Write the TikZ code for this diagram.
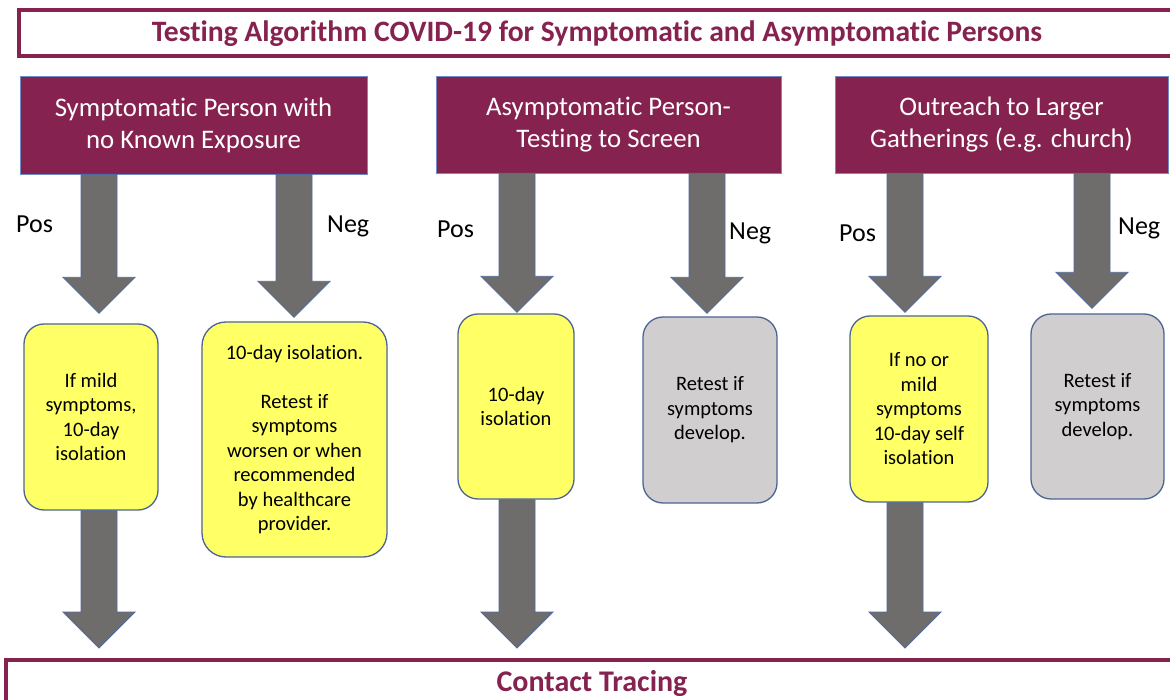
\documentclass[tikz,border=0pt]{standalone}
\usepackage{fontspec}
\setmainfont{Carlito}[Ligatures=NoCommon]
\usetikzlibrary{calc}

\definecolor{maroon}{HTML}{86224F}
\definecolor{headline}{HTML}{6F8CC4}
\definecolor{notefill}{HTML}{FFFF66}
\definecolor{greyfill}{HTML}{D0CECF}
\definecolor{noteline}{HTML}{4C6594}
\definecolor{shaftfill}{HTML}{6F6C6C}
\definecolor{shaftline}{HTML}{4F6AA0}

\tikzset{
  banner/.style={draw=maroon, line width=4pt, fill=white},
  bannertext/.style={text=maroon, font=\bfseries\fontsize{#1}{#1}\selectfont, inner sep=0pt},
  header/.style={draw=headline, line width=0.8pt, fill=maroon, text=white,
    align=center, font=\fontsize{26.8}{32}\selectfont, inner sep=0pt},
  note/.style={draw=noteline, line width=1.3pt, rounded corners=20pt, align=center,
    font=\fontsize{20.5}{24.5}\selectfont, inner sep=0pt},
  yellownote/.style={note, fill=notefill},
  greynote/.style={note, fill=greyfill},
  result/.style={font=\fontsize{26}{30}\selectfont, anchor=base west, inner sep=0pt},
  fatarrow/.style={fill=shaftfill, draw=shaftline, line width=0.8pt, line join=miter},
}

% thick block arrow going straight down from #1 to the tip #2
\newcommand\fatarrow[2]{%
  \filldraw[fatarrow] let \p1=(#1), \p2=(#2) in
    (\x1-18pt,\y1) -- (\x1+18pt,\y1) -- (\x1+18pt,\y2+36pt) -- (\x1+36pt,\y2+36pt)
    -- (\x1,\y2) -- (\x1-36pt,\y2+36pt) -- (\x1-18pt,\y2+36pt) -- cycle;%
}

\begin{document}
\begin{tikzpicture}[x=1pt, y=-1pt]
  \useasboundingbox (0,0) rectangle (1170,700);
  \clip (0,0) rectangle (1170,700);

  % title banner and contact tracing banner
  \draw[banner] (19,10) rectangle (1180,56);
  \node[bannertext=29.6] (title) at (597,34) {Testing Algorithm COVID-19 for Symptomatic and Asymptomatic Persons};
  \draw[banner] (6,660) rectangle (1185,730);
  \node[bannertext=30] (contact) at (592,684) {Contact Tracing};
  \coordinate (ctop) at (592,660);

  % three starting situations
  \node[header, minimum width=347pt, minimum height=98pt] (h1) at (193.5,125) {Symptomatic Person with\\no Known Exposure};
  \node[header, minimum width=345pt, minimum height=97pt] (h2) at (608.5,124.5) {Asymptomatic Person-\\Testing to Screen};
  \node[header, minimum width=333pt, minimum height=97pt] (h3) at (1001.5,124.5) {Outreach to Larger\\Gatherings (e.g. church)};

  % outcomes
  \node[yellownote, minimum width=134pt, minimum height=186pt] (r1) at (91,417) {If mild\\symptoms,\\10-day\\isolation};
  \node[yellownote, minimum width=185pt, minimum height=235pt, rounded corners=24pt] (r2) at (294.5,439.5)
    {10-day isolation.\\[24.5pt]Retest if\\symptoms\\worsen or when\\recommended\\by healthcare\\provider.};
  \node[yellownote, minimum width=116pt, minimum height=185pt] (r3) at (516,406.5) {10-day\\isolation};
  \node[greynote, minimum width=134pt, minimum height=186pt] (r4) at (710,410) {Retest if\\symptoms\\develop.};
  \node[yellownote, minimum width=138pt, minimum height=186pt] (r5) at (919,409) {If no or\\mild\\symptoms\\10-day self\\isolation};
  \node[greynote, minimum width=133pt, minimum height=185pt] (r6) at (1097.5,406.5) {Retest if\\symptoms\\develop.};

  % arrow axes
  \coordinate (a1) at (99,0);
  \coordinate (a2) at (294,0);
  \coordinate (a3) at (517,0);
  \coordinate (a4) at (707,0);
  \coordinate (a5) at (905,0);
  \coordinate (a6) at (1092,0);

  % test result arrows
  \fatarrow{h1.south -| a1}{$(r1.north -| a1)+(0,-10)$}
  \fatarrow{h1.south -| a2}{$(r2.north -| a2)+(0,-4)$}
  \fatarrow{h2.south -| a3}{$(r3.north -| a3)+(0,-1)$}
  \fatarrow{h2.south -| a4}{$(r4.north -| a4)+(0,-3)$}
  \fatarrow{h3.south -| a5}{$(r5.north -| a5)+(0,-3)$}
  \fatarrow{h3.south -| a6}{$(r6.north -| a6)+(0,-5)$}

  % positive cases go on to contact tracing
  \fatarrow{r1.south -| a1}{$(ctop -| a1)+(0,-12)$}
  \fatarrow{r3.south -| a3}{$(ctop -| a3)+(0,-12)$}
  \fatarrow{r5.south -| a5}{$(ctop -| a5)+(0,-12)$}

  % result labels
  \node[result] (p1) at (16,233) {Pos};
  \node[result] (n1) at (327,233) {Neg};
  \node[result] (p2) at (437,238) {Pos};
  \node[result] (n2) at (729,240) {Neg};
  \node[result] (p3) at (839,242) {Pos};
  \node[result] (n3) at (1118,235) {Neg};
\end{tikzpicture}
\end{document}
